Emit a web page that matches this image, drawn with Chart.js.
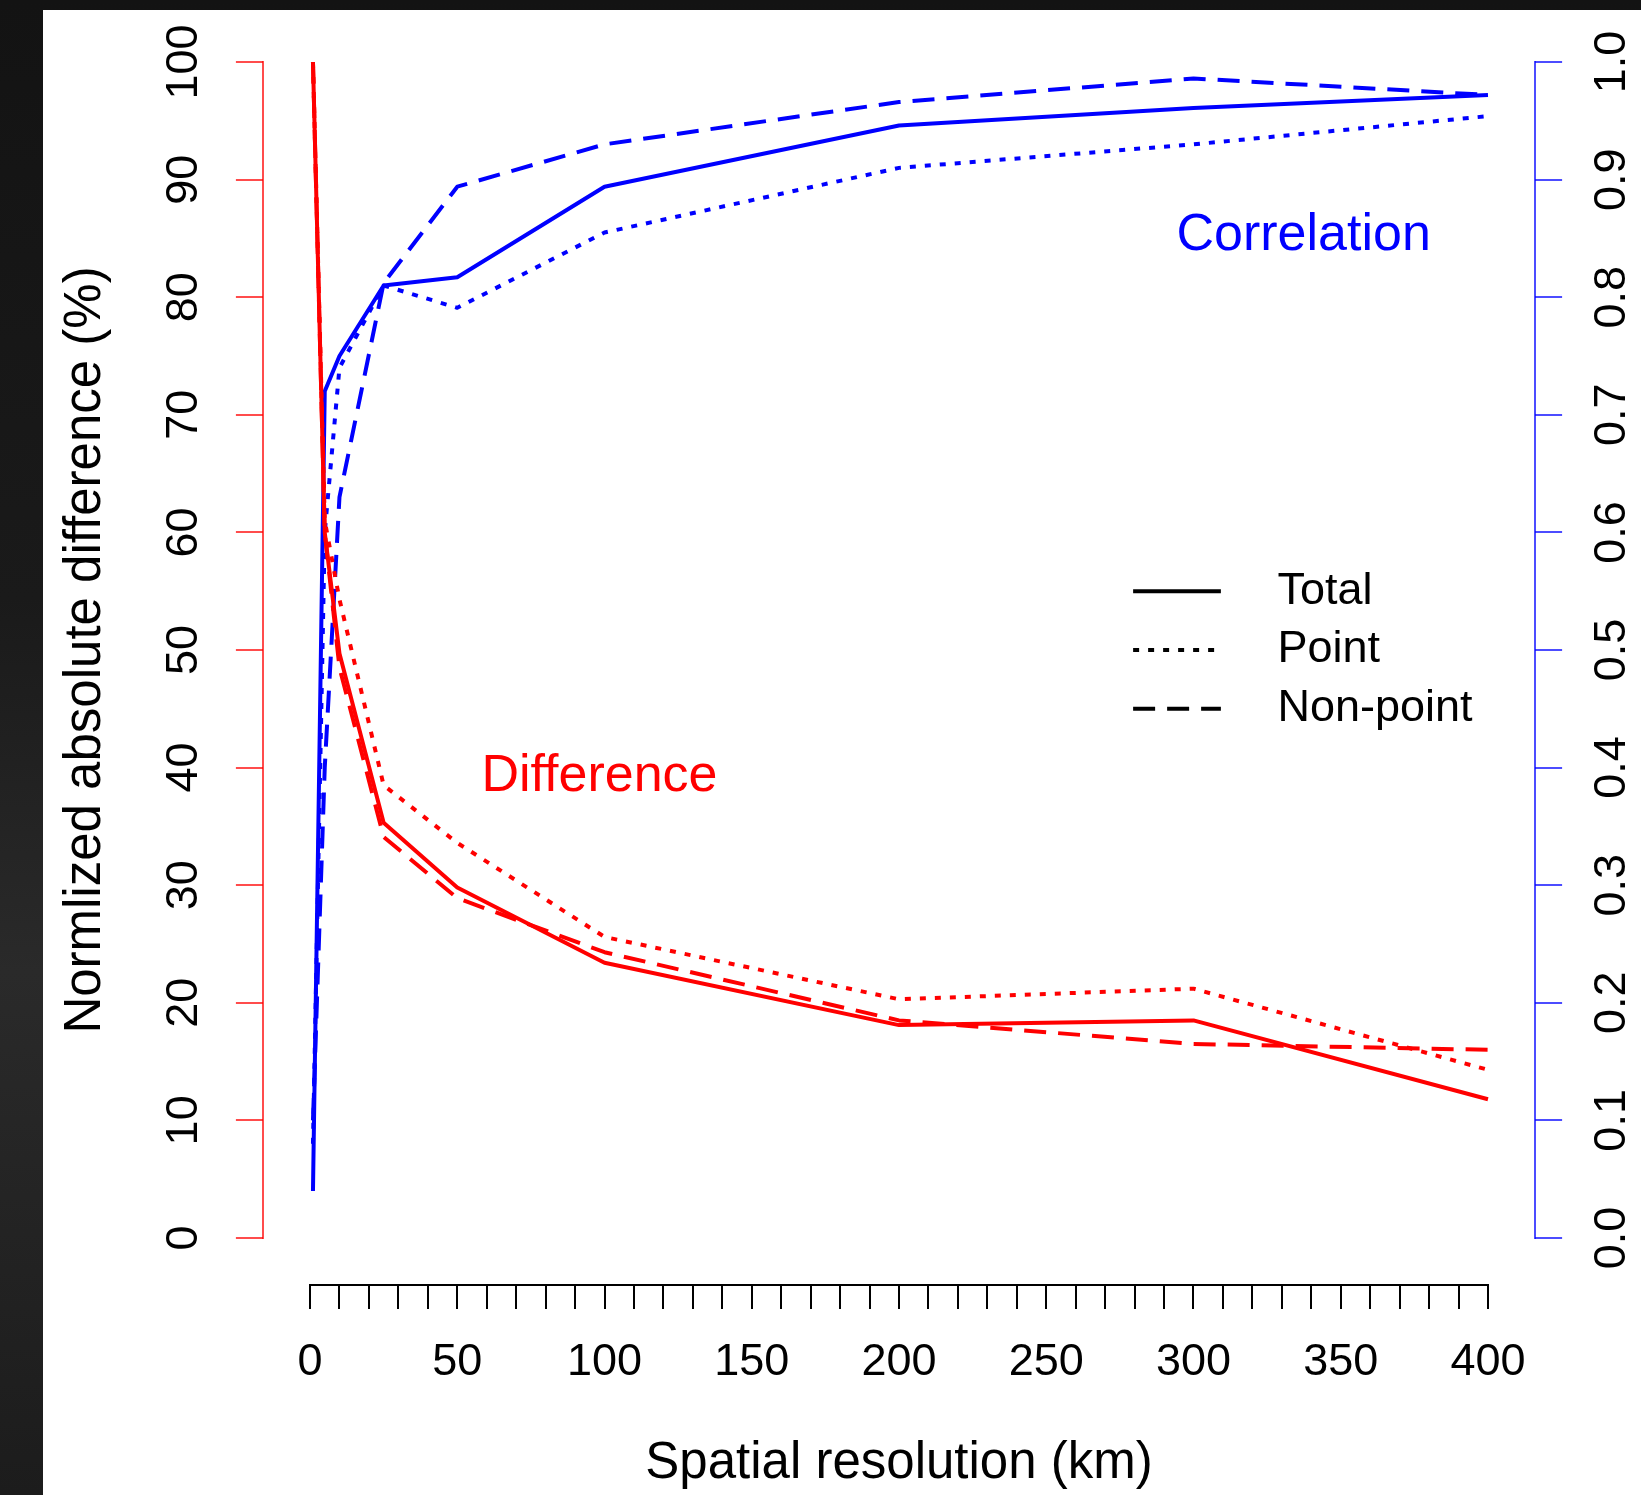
<!DOCTYPE html>
<html>
<head>
<meta charset="utf-8">
<title>Difference and correlation against spatial resolution</title>
<script src="https://cdn.jsdelivr.net/npm/chart.js@4.4.1/dist/chart.umd.min.js"></script>
<style>
  html, body { margin: 0; padding: 0; }
  body {
    width: 1641px;
    height: 1495px;
    overflow: hidden;
    position: relative;
    background: linear-gradient(to bottom, #131313 0%, #1a1a1a 40%, #2a2a2a 65%, #1c1c1c 100%);
  }
  #wrap {
    position: absolute;
    left: 43px;
    top: 10px;
    width: 1598px;
    height: 1485px;
    background: #fff;
  }
</style>
</head>
<body>
<div id="wrap"><canvas id="chart"></canvas></div>
<script>
// x positions of the runs (km)
const resolutionKm = [1, 5, 10, 25, 50, 100, 200, 300, 400];

// normalized absolute difference (%), left axis
const diffTotal    = [100, 60, 49.7, 35.3, 29.8, 23.4, 18.1, 18.5, 11.8];
const diffPoint    = [100, 61, 54.3, 38.5, 33.6, 25.6, 20.3, 21.2, 14.3];
const diffNonPoint = [100, 60, 48.5, 34.1, 28.9, 24.3, 18.5, 16.5, 16.0];

// correlation, right axis
const corrTotal    = [0.04, 0.72, 0.75, 0.81, 0.817, 0.894, 0.946, 0.961, 0.972];
const corrPoint    = [0.08, 0.60, 0.74, 0.81, 0.791, 0.855, 0.910, 0.930, 0.954];
const corrNonPoint = [0.10, 0.40, 0.63, 0.812, 0.894, 0.930, 0.966, 0.986, 0.972];

// axis ticks
const xTickLabels = [0, 50, 100, 150, 200, 250, 300, 350, 400];
const xMinorStep = 10;
const diffTicks = [0, 10, 20, 30, 40, 50, 60, 70, 80, 90, 100];
const corrTicks = [0, 0.1, 0.2, 0.3, 0.4, 0.5, 0.6, 0.7, 0.8, 0.9, 1.0];

const legendLabels = ["Total", "Point", "Non-point"];

const RED = "#ff0000";
const BLUE = "#0000ff";
const AXIS_RED = "rgba(255, 0, 0, 0.7)";
const AXIS_BLUE = "rgba(0, 0, 255, 0.7)";
const FONT = "'Liberation Sans', Arial, Helvetica, sans-serif";

const SOLID = [];
const DOTTED = [6, 9];
const DASHED = [22, 12];
const legendDashes = [SOLID, DOTTED, DASHED];

Chart.defaults.font.family = FONT;
Chart.defaults.color = "#000";

const xMinorTicks = [];
for (let v = xTickLabels[0]; v <= xTickLabels[xTickLabels.length - 1]; v += xMinorStep) xMinorTicks.push(v);

function toPoints(values) {
  return resolutionKm.map((x, i) => ({ x, y: values[i] }));
}

function series(label, values, color, dash, axis) {
  return {
    label,
    data: toPoints(values),
    yAxisID: axis,
    borderColor: color,
    borderWidth: 4,
    borderDash: dash,
    borderCapStyle: "butt",
    borderJoinStyle: "round",
    pointRadius: 0,
    tension: 0,
    fill: false
  };
}

function align(px) {
  return Math.round(px - 1) + 1;
}

function segment(ctx, color, dash, x1, y1, x2, y2) {
  ctx.strokeStyle = color;
  ctx.setLineDash(dash);
  ctx.beginPath();
  ctx.moveTo(x1, y1);
  ctx.lineTo(x2, y2);
  ctx.stroke();
}

// R style axis lines (first to last tick), text labels and the legend
const decorations = {
  id: "decorations",
  afterDraw(chart) {
    const { ctx } = chart;
    const { x, yL, yR } = chart.scales;
    ctx.save();
    ctx.lineCap = "butt";

    ctx.lineWidth = 2;
    const lx = align(yL.right);
    segment(ctx, AXIS_RED, [], lx, align(yL.getPixelForValue(diffTicks[diffTicks.length - 1])) - 1,
      lx, align(yL.getPixelForValue(diffTicks[0])) + 1);
    const rx = align(yR.left);
    segment(ctx, AXIS_BLUE, [], rx, align(yR.getPixelForValue(corrTicks[corrTicks.length - 1])) - 1,
      rx, align(yR.getPixelForValue(corrTicks[0])) + 1);
    const by = align(x.top);
    segment(ctx, "#000", [], align(x.getPixelForValue(xMinorTicks[0])) - 1, by,
      align(x.getPixelForValue(xMinorTicks[xMinorTicks.length - 1])) + 1, by);

    ctx.textAlign = "center";
    ctx.textBaseline = "middle";
    ctx.font = "52px " + FONT;
    ctx.fillStyle = BLUE;
    ctx.fillText("Correlation", x.getPixelForValue(337.4), yL.getPixelForValue(85.2));
    ctx.fillStyle = RED;
    ctx.fillText("Difference", x.getPixelForValue(98.3), yL.getPixelForValue(39.2));

    // legend
    ctx.lineWidth = 4;
    ctx.font = "45px " + FONT;
    ctx.textAlign = "left";
    ctx.fillStyle = "#000";
    legendLabels.forEach((label, i) => {
      const y = yL.getPixelForValue(55 - i * 5);
      segment(ctx, "#000", legendDashes[i], x.getPixelForValue(279.5), y, x.getPixelForValue(309.3), y);
      ctx.fillText(label, x.getPixelForValue(328.5), y);
    });
    ctx.restore();
  }
};

const ctx = document.getElementById("chart").getContext("2d");
new Chart(ctx, {
  type: "line",
  data: {
    datasets: [
      series("Difference total", diffTotal, RED, SOLID, "yL"),
      series("Difference point", diffPoint, RED, DOTTED, "yL"),
      series("Difference non-point", diffNonPoint, RED, DASHED, "yL"),
      series("Correlation total", corrTotal, BLUE, SOLID, "yR"),
      series("Correlation point", corrPoint, BLUE, DOTTED, "yR"),
      series("Correlation non-point", corrNonPoint, BLUE, DASHED, "yR")
    ]
  },
  options: {
    responsive: true,
    maintainAspectRatio: false,
    animation: false,
    layout: { padding: { top: 5, left: 0, right: 0, bottom: 0 } },
    plugins: {
      legend: { display: false },
      tooltip: { enabled: false }
    },
    scales: {
      x: {
        type: "linear",
        position: "bottom",
        min: -16,
        max: 416,
        afterBuildTicks: s => { s.ticks = xMinorTicks.map(v => ({ value: v })); },
        afterFit: s => { s.height = 210; s.paddingLeft = 0; s.paddingRight = 0; s.paddingTop = 0; s.paddingBottom = 0; },
        ticks: {
          autoSkip: false,
          minRotation: 0,
          maxRotation: 0,
          padding: 27,
          color: "#000",
          font: { size: 45 },
          callback: v => xTickLabels.includes(v) ? String(v) : ""
        },
        grid: { drawOnChartArea: false, tickLength: 24, color: "#000", lineWidth: 2 },
        border: { display: false },
        title: {
          display: true,
          text: "Spatial resolution (km)",
          color: "#000",
          font: { size: 51 },
          padding: { top: 0, bottom: 0.4 }
        }
      },
      yL: {
        type: "linear",
        position: "left",
        min: -4,
        max: 104,
        afterBuildTicks: s => { s.ticks = diffTicks.map(v => ({ value: v })); },
        afterFit: s => { s.width = 219.9; s.paddingTop = 0; s.paddingBottom = 0; },
        ticks: {
          minRotation: 90,
          maxRotation: 90,
          crossAlign: "center",
          padding: 14,
          color: "#000",
          font: { size: 45 }
        },
        grid: { drawOnChartArea: false, tickLength: 27, color: AXIS_RED, lineWidth: 2 },
        border: { display: false },
        title: {
          display: true,
          text: "Normlized absolute difference (%)",
          color: "#000",
          font: { size: 51 },
          padding: { top: 11.9, bottom: 0 }
        }
      },
      yR: {
        type: "linear",
        position: "right",
        min: -0.04,
        max: 1.04,
        afterBuildTicks: s => { s.ticks = corrTicks.map(v => ({ value: v })); },
        afterFit: s => { s.width = 105.9; s.paddingTop = 0; s.paddingBottom = 0; },
        ticks: {
          minRotation: 90,
          maxRotation: 90,
          crossAlign: "center",
          padding: 19.6,
          color: "#000",
          font: { size: 45 },
          callback: v => v.toFixed(1)
        },
        grid: { drawOnChartArea: false, tickLength: 27, color: AXIS_BLUE, lineWidth: 2 },
        border: { display: false }
      }
    }
  },
  plugins: [decorations]
});
</script>
</body>
</html>
